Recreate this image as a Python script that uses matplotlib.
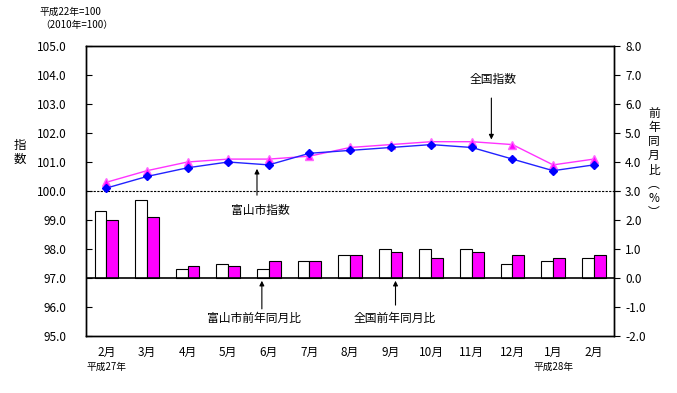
import numpy as np
import matplotlib
matplotlib.use('Agg')
import matplotlib.pyplot as plt

plt.rcParams['font.family'] = ['Noto Sans CJK JP', 'DejaVu Sans']

months = ['2月', '3月', '4月', '5月', '6月', '7月', '8月', '9月', '10月', '11月', '12月', '1月', '2月']
toyama_idx = [100.1, 100.5, 100.8, 101.0, 100.9, 101.3, 101.4, 101.5, 101.6, 101.5, 101.1, 100.7, 100.9]
zenkoku_idx = [100.3, 100.7, 101.0, 101.1, 101.1, 101.2, 101.5, 101.6, 101.7, 101.7, 101.6, 100.9, 101.1]
toyama_yoy = [2.3, 2.7, 0.3, 0.5, 0.3, 0.6, 0.8, 1.0, 1.0, 1.0, 0.5, 0.6, 0.7]
zenkoku_yoy = [2.0, 2.1, 0.4, 0.4, 0.6, 0.6, 0.8, 0.9, 0.7, 0.9, 0.8, 0.7, 0.8]

x = np.arange(len(months))
w = 0.29

fig = plt.figure(figsize=(6.77, 3.93), dpi=100)
ax = fig.add_axes([0.127, 0.145, 0.780, 0.738])
ax2 = ax.twinx()
ax.set_zorder(ax2.get_zorder() + 1)
ax.patch.set_visible(False)

# bars (right axis)
ax2.bar(x - w/2, toyama_yoy, w, color='white', edgecolor='black', linewidth=0.8)
ax2.bar(x + w/2, zenkoku_yoy, w, color='#FF00FF', edgecolor='black', linewidth=0.8)
ax2.axhline(0, color='black', lw=1.2)
ax2.set_ylim(-2, 8)
ax2.set_yticks(np.arange(-2, 9, 1))
ax2.set_yticklabels(['%.1f' % v for v in np.arange(-2, 9, 1)])
ax2.tick_params(axis='y', direction='out', length=4, labelsize=8.5, pad=4)

# lines (left axis)
ax.axhline(100, color='black', lw=0.8, ls=(0, (2, 1.2)), xmax=1.012, clip_on=False)
ax.plot(x, zenkoku_idx, color='#FF33FF', lw=1, marker='^', ms=5.5,
        mfc='#FF00FF', mec='#FF66FF')
ax.plot(x, toyama_idx, color='#2222FF', lw=1, marker='D', ms=4.5,
        mfc='#0000FF', mec='#0000FF')
ax.set_ylim(95, 105)
ax.set_xlim(-0.5, len(months) - 0.5)
ax.set_yticks(np.arange(95, 106, 1))
ax.set_yticklabels(['%.1f' % v for v in np.arange(95, 106, 1)])
ax.tick_params(axis='y', direction='in', length=4, labelsize=8.5, pad=14)
ax.set_xticks(x)
ax.set_xticklabels(months)
ax.tick_params(axis='x', length=0, labelsize=8.5, pad=7)
for a in (ax, ax2):
    for s in a.spines.values():
        s.set_linewidth(1.0)

# annotations
arr = dict(arrowstyle='-|>', color='black', lw=0.8, mutation_scale=7)
ax.text(9.52, 103.83, '全国指数', ha='center', va='center', fontsize=8.5)
ax.annotate('', xy=(9.48, 101.68), xytext=(9.48, 103.3), arrowprops=arr)
ax.text(3.79, 99.32, '富山市指数', ha='center', va='center', fontsize=8.5)
ax.annotate('', xy=(3.71, 100.86), xytext=(3.71, 99.76), arrowprops=arr)
ax2.text(3.64, -1.41, '富山市前年同月比', ha='center', va='center', fontsize=8.5)
ax2.annotate('', xy=(3.83, 0.0), xytext=(3.83, -1.16), arrowprops=arr)
ax2.text(7.11, -1.38, '全国前年同月比', ha='center', va='center', fontsize=8.5)
ax2.annotate('', xy=(7.12, 0.0), xytext=(7.12, -1.03), arrowprops=arr)

tr = ax.get_xaxis_transform()
ax.text(0, -0.107, '平成27年', transform=tr, ha='center', va='center', fontsize=7)
ax.text(11, -0.107, '平成28年', transform=tr, ha='center', va='center', fontsize=7)

fig.text(40/677, 1 - 12/393, '平成22年=100', ha='left', va='center', fontsize=7)
fig.text(40/677, 1 - 25/393, '（2010年=100）', ha='left', va='center', fontsize=7)
fig.text(20/677, 1 - 152/393, '指\n数', ha='center', va='center', fontsize=9, linespacing=1.1)
fig.text(654/677, 1 - 163/393, '前\n年\n同\n月\n比\n︵\n%\n︶', ha='center', va='center',
         fontsize=8.5, linespacing=1.12)

fig.savefig('out.png', dpi=100)
